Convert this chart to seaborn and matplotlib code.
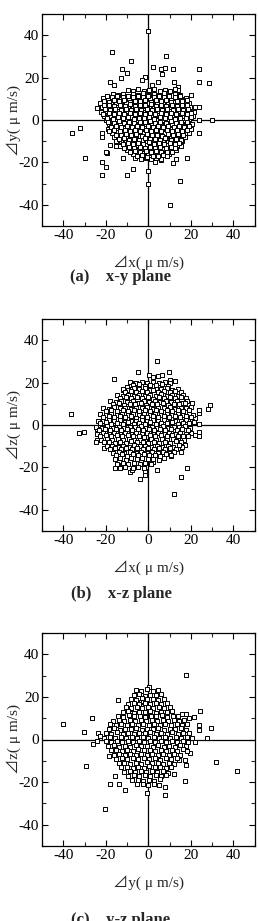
import seaborn as sns
import pandas as pd
import matplotlib.pyplot as plt
from matplotlib.ticker import MultipleLocator

# (dx, dy) points, x-y plane
xy_pts = [
    (0, 42), (-17, 32), (8.5, 30), (-8, 28), (2, 25), (-12.5, 24), (-10, 22), (6, 24), (8, 24.5), (11.5, 24),
    (24, 24), (24, 18), (28.5, 17.5), (-18, 18), (-16, 16.3), (-13, 20), (-1.3, 20.5), (1.6, 16.3), (4.5, 18),
    (12, 18), (13.8, 15.8), (13.8, 14.3), (20, 12), (22, 6), (24, 6), (-24, 5.5), (24, 0), (30, 0), (-36, -6),
    (-32, -4), (24, -6), (-30, -18), (-22, -20), (-20, -22), (-22, -26), (-10, -26), (-7, -23), (0, -24),
    (0, -30), (15, -29), (10, -40), (18, -18), (11.8, -20.2), (12.9, -18.2), (-12, -18), (-6.3, -17.9),
    (-18, -12), (-22, -8), (-22, -6), (-19.6, -15.4), (-15, -12.4), (-20, -15), (6.6, 21.6), (-3, 19), (3, -20), (6, -19),
    (-9.5, 14.2), (-7, 13.8), (-4.8, 14.5), (-2.2, 13.6), (0.4, 14.1), (2.9, 14.7), (5.3, 13.5), (7.8, 14.3), (10.2, 13.9), (12.6, 14.6),
    (-16.8, 12.1), (-14.3, 11.7), (-12, 12.4), (-9.6, 11.5), (-7.1, 12.2), (-4.7, 11.8), (-2.3, 12.5), (0.2, 11.6), (2.6, 12.3),
    (5.1, 11.9), (7.5, 12.6), (9.9, 11.7), (12.4, 12.2), (14.8, 11.8),
    (-21.3, 10.2), (-18.9, 9.7), (-16.4, 10.5), (-14, 9.9), (-11.5, 10.3), (-9.1, 9.6), (-6.6, 10.4), (-4.2, 9.8), (-1.7, 10.6),
    (0.7, 9.7), (3.2, 10.2), (5.6, 9.9), (8.1, 10.5), (10.5, 9.6), (13, 10.1), (15.4, 9.8), (17.9, 10.4),
    (-22.6, 8.1), (-20.2, 7.7), (-17.7, 8.4), (-15.3, 7.6), (-12.8, 8.2), (-10.4, 7.9), (-7.9, 8.5), (-5.5, 7.7), (-3, 8.3),
    (-0.6, 7.8), (1.9, 8.4), (4.3, 7.6), (6.8, 8.2), (9.2, 7.9), (11.7, 8.5), (14.1, 7.7), (16.6, 8.2), (19, 7.8),
    (-21.8, 6.2), (-19.4, 5.7), (-16.9, 6.4), (-14.5, 5.9), (-12, 6.3), (-9.6, 5.6), (-7.1, 6.1), (-4.7, 5.8), (-2.2, 6.5),
    (0.2, 5.7), (2.7, 6.2), (5.1, 5.9), (7.6, 6.4), (10, 5.6), (12.5, 6.1), (14.9, 5.8), (17.4, 6.3), (19.8, 5.9),
    (-22.2, 3.9), (-19.8, 4.3), (-17.3, 3.7), (-14.9, 4.2), (-12.4, 3.8), (-10, 4.4), (-7.5, 3.6), (-5.1, 4.1), (-2.6, 3.9),
    (-0.2, 4.5), (2.3, 3.7), (4.7, 4.2), (7.2, 3.8), (9.6, 4.3), (12.1, 3.6), (14.5, 4.1), (17, 3.9), (19.4, 4.4), (21.7, 3.8),
    (-20.6, 2.1), (-18.1, 1.7), (-15.7, 2.4), (-13.2, 1.8), (-10.8, 2.2), (-8.3, 1.6), (-5.9, 2.3), (-3.4, 1.9), (-1, 2.5),
    (1.5, 1.7), (3.9, 2.2), (6.4, 1.8), (8.8, 2.4), (11.3, 1.6), (13.7, 2.1), (16.2, 1.9), (18.6, 2.3), (21, 1.8),
    (-19.9, 0.2), (-17.4, -0.3), (-15, 0.4), (-12.5, -0.2), (-10.1, 0.3), (-7.6, -0.4), (-5.2, 0.1), (-2.7, -0.2), (-0.3, 0.5),
    (2.2, -0.3), (4.6, 0.2), (7.1, -0.1), (9.5, 0.4), (12, -0.3), (14.4, 0.1), (16.9, -0.2), (19.3, 0.3),
    (-18.3, -1.9), (-15.8, -2.3), (-13.4, -1.7), (-10.9, -2.2), (-8.5, -1.8), (-6, -2.4), (-3.6, -1.9), (-1.1, -2.1), (1.3, -1.6),
    (3.8, -2.3), (6.2, -1.8), (8.7, -2.2), (11.1, -1.7), (13.6, -2.4), (16, -1.9), (18.5, -2.1), (20.7, -1.8),
    (-19.1, -4.1), (-16.6, -3.7), (-14.2, -4.3), (-11.7, -3.8), (-9.3, -4.2), (-6.8, -3.6), (-4.4, -4.1), (-1.9, -3.9), (0.5, -4.4),
    (3, -3.7), (5.4, -4.2), (7.9, -3.8), (10.3, -4.3), (12.8, -3.6), (15.2, -4.1), (17.7, -3.9), (19.9, -4.2),
    (-17.2, -6.1), (-14.7, -5.7), (-12.3, -6.3), (-9.8, -5.8), (-7.4, -6.2), (-4.9, -5.6), (-2.5, -6.1), (0, -5.9), (2.4, -6.4),
    (4.9, -5.7), (7.3, -6.2), (9.8, -5.8), (12.2, -6.3), (14.7, -5.6), (17.1, -6.1), (19.2, -5.9),
    (-16.1, -8.2), (-13.6, -7.7), (-11.2, -8.3), (-8.7, -7.8), (-6.3, -8.2), (-3.8, -7.6), (-1.4, -8.1), (1.1, -7.9), (3.5, -8.4),
    (6, -7.7), (8.4, -8.2), (10.9, -7.8), (13.3, -8.3), (15.8, -7.6), (17.2, -8.1),
    (-15.2, -10.1), (-12.7, -9.7), (-10.3, -10.3), (-7.8, -9.8), (-5.4, -10.2), (-2.9, -9.6), (-0.5, -10.1), (2, -9.9), (4.4, -10.4),
    (6.9, -9.7), (9.3, -10.2), (11.8, -9.8), (14.2, -10.3), (16.1, -9.9),
    (-13.4, -12.2), (-10.9, -11.7), (-8.5, -12.3), (-6, -11.8), (-3.6, -12.2), (-1.1, -11.6), (1.3, -12.1), (3.8, -11.9),
    (6.2, -12.4), (8.7, -11.7), (11.1, -12.2), (13.6, -11.8), (15.3, -12.4),
    (-10.2, -14.1), (-7.7, -13.7), (-5.3, -14.3), (-2.8, -13.8), (-0.4, -14.2), (2.1, -13.6), (4.5, -14.1), (7, -13.9),
    (9.4, -14.4), (11.9, -13.7), (13.2, -14.2),
    (-7.4, -16.1), (-4.9, -15.7), (-2.5, -16.3), (0, -15.8), (2.4, -16.2), (4.9, -15.6), (7.3, -16.1), (9.8, -15.9),
    (-3.6, -18.2), (-1.1, -17.7), (1.3, -18.3), (3.8, -17.8), (6.2, -18.4),
    (-19.5, 11.2), (-17, 10.8), (-14.6, 11.3), (-12.1, 10.9), (-9.7, 11.4), (-7.2, 10.7), (-4.8, 11.2), (-2.3, 10.8), (0.1, 11.3),
    (2.6, 10.9), (5, 11.4), (7.5, 10.7), (9.9, 11.1), (12.4, 10.8), (14.8, 11.3),
    (-21, 9.1), (-18.5, 8.7), (-16.1, 9.3), (-13.6, 8.8), (-11.2, 9.2), (-8.7, 8.6), (-6.3, 9.1), (-3.8, 8.9), (-1.4, 9.4),
    (1.1, 8.7), (3.5, 9.2), (6, 8.8), (8.4, 9.3), (10.9, 8.6), (13.3, 9.1), (15.8, 8.9), (18.2, 9.2),
    (-20.9, 6.9), (-18.4, 7.3), (-16, 6.7), (-13.5, 7.2), (-11.1, 6.8), (-8.6, 7.4), (-6.2, 6.6), (-3.7, 7.1), (-1.3, 6.9),
    (1.2, 7.5), (3.6, 6.7), (6.1, 7.2), (8.5, 6.8), (11, 7.3), (13.4, 6.6), (15.9, 7.1), (18.3, 6.9),
    (-20.4, 5.1), (-17.9, 4.7), (-15.5, 5.3), (-13, 4.8), (-10.6, 5.2), (-8.1, 4.6), (-5.7, 5.1), (-3.2, 4.9), (-0.8, 5.4),
    (1.7, 4.7), (4.1, 5.2), (6.6, 4.8), (9, 5.3), (11.5, 4.6), (13.9, 5.1), (16.4, 4.9), (18.8, 5.2),
    (-21.1, 2.9), (-18.6, 3.3), (-16.2, 2.7), (-13.7, 3.2), (-11.3, 2.8), (-8.8, 3.4), (-6.4, 2.6), (-3.9, 3.1), (-1.5, 2.9),
    (1, 3.5), (3.4, 2.7), (5.9, 3.2), (8.3, 2.8), (10.8, 3.3), (13.2, 2.6), (15.7, 3.1), (18.1, 2.9), (20.3, 3.2),
    (-19.2, 1.1), (-16.7, 0.7), (-14.3, 1.3), (-11.8, 0.8), (-9.4, 1.2), (-6.9, 0.6), (-4.5, 1.1), (-2, 0.9), (0.4, 1.4),
    (2.9, 0.7), (5.3, 1.2), (7.8, 0.8), (10.2, 1.3), (12.7, 0.6), (15.1, 1.1), (17.6, 0.9), (19.9, 1.2),
    (-18.8, -0.9), (-16.3, -1.3), (-13.9, -0.7), (-11.4, -1.2), (-9, -0.8), (-6.5, -1.4), (-4.1, -0.9), (-1.6, -1.1), (0.8, -0.6),
    (3.3, -1.3), (5.7, -0.8), (8.2, -1.2), (10.6, -0.7), (13.1, -1.4), (15.5, -0.9), (18, -1.1),
    (-17.5, -3.1), (-15, -2.7), (-12.6, -3.3), (-10.1, -2.8), (-7.7, -3.2), (-5.2, -2.6), (-2.8, -3.1), (-0.3, -2.9), (2.1, -3.4),
    (4.6, -2.7), (7, -3.2), (9.5, -2.8), (11.9, -3.3), (14.4, -2.6), (16.8, -3.1), (19.1, -2.9),
    (-18.4, -5.1), (-15.9, -4.7), (-13.5, -5.3), (-11, -4.8), (-8.6, -5.2), (-6.1, -4.6), (-3.7, -5.1), (-1.2, -4.9), (1.2, -5.4),
    (3.7, -4.7), (6.1, -5.2), (8.6, -4.8), (11, -5.3), (13.5, -4.6), (15.9, -5.1), (18.3, -4.9),
    (-15.4, -6.9), (-12.9, -7.3), (-10.5, -6.7), (-8, -7.2), (-5.6, -6.8), (-3.1, -7.4), (-0.7, -6.6), (1.8, -7.1), (4.2, -6.9),
    (6.7, -7.5), (9.1, -6.7), (11.6, -7.2), (14, -6.8), (16.5, -7.3),
    (-14, -9.1), (-11.5, -8.7), (-9.1, -9.3), (-6.6, -8.8), (-4.2, -9.2), (-1.7, -8.6), (0.7, -9.1), (3.2, -8.9), (5.6, -9.4),
    (8.1, -8.7), (10.5, -9.2), (13, -8.8), (15.2, -9.3),
    (-12.1, -11.1), (-9.6, -10.7), (-7.2, -11.3), (-4.7, -10.8), (-2.3, -11.2), (0.2, -10.6), (2.6, -11.1), (5.1, -10.9),
    (7.5, -11.4), (10, -10.7), (12.4, -11.2), (14.6, -10.8),
    (-11.6, -13.1), (-9, -12.7), (-6.5, -13.3), (-4.1, -12.8), (-1.6, -13.2), (0.8, -12.6), (3.3, -13.1), (5.7, -12.9),
    (8.2, -13.4), (10.6, -12.7), (12.6, -13.2),
    (-8.6, -15.1), (-6.1, -14.7), (-3.7, -15.3), (-1.2, -14.8), (1.2, -15.2), (3.7, -14.6), (6.1, -15.1), (8.6, -14.9), (11, -15.3),
    (-5.3, -17.1), (-2.8, -16.7), (-0.4, -17.3), (2.1, -16.8), (4.5, -17.2), (7, -16.6), (8.9, -17.1),
]

# (dx, dz) points, x-z plane
xz_pts = [
    (3.9, 30.3), (-5, 25), (-16, 21.6), (0.5, 23.5), (2.4, 22.7), (4.4, 23.2), (6.6, 23.5), (9.9, 24.8), (10.2, 21.2),
    (-12, 16.5), (-10, 18), (-8, 19), (-6.3, 19.6), (29, 9.4), (28, 7.4), (23.8, 0.3), (23.8, -3.1), (23.8, -5.3),
    (23.8, 5.5), (23.8, 7), (20.5, 10.5), (18, -20.4), (15.2, -24.5), (12.2, -32.5), (-3.9, -25.6), (-8.6, -22),
    (-7.8, -21), (-15.7, -20.4), (-12.5, -18.8), (-36.2, 5), (-32.5, -3.9), (-30.4, -3.1), (-24, -7), (-24.5, -8),
    (-24, -2), (-21, -11), (17.4, -9.4), (16, -10.5), (10.7, -14.6), (15.5, -12.5), (2, -17.5), (4, -21), (-1.5, -23.5),
    (-1.5, -21.5), (20, -4), (22, -4.5), (22, 3.5),
    (-8.5, 20.3), (-5.8, 19.7), (-3.1, 20.5), (-0.4, 19.8), (2.3, 20.4), (5, 19.6), (7.7, 20.2), (10.4, 19.9), (12.6, 20.6),
    (-7.1, 18.8), (-4.4, 19.2), (-1.7, 18.6), (1, 19.1), (3.7, 18.7), (6.4, 19.3), (9.1, 18.6),
    (-12.1, 17.2), (-9.5, 16.7), (-6.9, 17.4), (-4.3, 16.8), (-1.7, 17.3), (0.9, 16.6), (3.5, 17.1), (6.1, 16.9), (8.7, 17.4),
    (11.3, 16.7), (13.9, 17.2),
    (-10.8, 15.8), (-8.2, 16.2), (-5.6, 15.6), (-3, 16.1), (-0.4, 15.7), (2.2, 16.3), (4.8, 15.5), (7.4, 16), (10, 15.7),
    (12.6, 16.2), (15.2, 15.6),
    (-14.6, 14.1), (-12, 13.7), (-9.4, 14.3), (-6.8, 13.8), (-4.2, 14.2), (-1.6, 13.6), (1, 14.1), (3.6, 13.9), (6.2, 14.4),
    (8.8, 13.7), (11.4, 14.2), (14, 13.8), (16.4, 14.3),
    (-13.3, 12.8), (-10.7, 13.2), (-8.1, 12.6), (-5.5, 13.1), (-2.9, 12.7), (-0.3, 13.3), (2.3, 12.5), (4.9, 13), (7.5, 12.7),
    (10.1, 13.2), (12.7, 12.6), (15.3, 13.1), (17.6, 12.8),
    (-17.8, 11.1), (-15.2, 10.7), (-12.6, 11.3), (-10, 10.8), (-7.4, 11.2), (-4.8, 10.6), (-2.2, 11.1), (0.4, 10.9), (3, 11.4),
    (5.6, 10.7), (8.2, 11.2), (10.8, 10.8), (13.4, 11.3), (16, 10.6), (18.4, 11.1),
    (-16.5, 9.8), (-13.9, 10.2), (-11.3, 9.6), (-8.7, 10.1), (-6.1, 9.7), (-3.5, 10.3), (-0.9, 9.5), (1.7, 10), (4.3, 9.7),
    (6.9, 10.2), (9.5, 9.6), (12.1, 10.1), (14.7, 9.8), (17.3, 10.3),
    (-21.2, 8.1), (-18.6, 7.7), (-16, 8.3), (-13.4, 7.8), (-10.8, 8.2), (-8.2, 7.6), (-5.6, 8.1), (-3, 7.9), (-0.4, 8.4),
    (2.2, 7.7), (4.8, 8.2), (7.4, 7.8), (10, 8.3), (12.6, 7.6), (15.2, 8.1), (17.8, 7.9), (20.2, 8.3),
    (-19.9, 6.8), (-17.3, 7.2), (-14.7, 6.6), (-12.1, 7.1), (-9.5, 6.7), (-6.9, 7.3), (-4.3, 6.5), (-1.7, 7), (0.9, 6.7),
    (3.5, 7.2), (6.1, 6.6), (8.7, 7.1), (11.3, 6.8), (13.9, 7.3), (16.5, 6.6), (19.1, 7.1),
    (-22.6, 5.1), (-20, 4.7), (-17.4, 5.3), (-14.8, 4.8), (-12.2, 5.2), (-9.6, 4.6), (-7, 5.1), (-4.4, 4.9), (-1.8, 5.4),
    (0.8, 4.7), (3.4, 5.2), (6, 4.8), (8.6, 5.3), (11.2, 4.6), (13.8, 5.1), (16.4, 4.9), (19, 5.3), (21.2, 4.8),
    (-21.3, 3.8), (-18.7, 4.2), (-16.1, 3.6), (-13.5, 4.1), (-10.9, 3.7), (-8.3, 4.3), (-5.7, 3.5), (-3.1, 4), (-0.5, 3.7),
    (2.1, 4.2), (4.7, 3.6), (7.3, 4.1), (9.9, 3.8), (12.5, 4.3), (15.1, 3.6), (17.7, 4.1), (20.1, 3.8),
    (-23.8, 2.1), (-21.2, 1.7), (-18.6, 2.3), (-16, 1.8), (-13.4, 2.2), (-10.8, 1.6), (-8.2, 2.1), (-5.6, 1.9), (-3, 2.4),
    (-0.4, 1.7), (2.2, 2.2), (4.8, 1.8), (7.4, 2.3), (10, 1.6), (12.6, 2.1), (15.2, 1.9), (17.8, 2.3), (20.4, 1.8),
    (-22.5, 0.8), (-19.9, 1.2), (-17.3, 0.6), (-14.7, 1.1), (-12.1, 0.7), (-9.5, 1.3), (-6.9, 0.5), (-4.3, 1), (-1.7, 0.7),
    (0.9, 1.2), (3.5, 0.6), (6.1, 1.1), (8.7, 0.8), (11.3, 1.3), (13.9, 0.6), (16.5, 1.1), (19.1, 0.8), (21.5, 1.2),
    (-24.4, -0.9), (-21.8, -1.3), (-19.2, -0.7), (-16.6, -1.2), (-14, -0.8), (-11.4, -1.4), (-8.8, -0.9), (-6.2, -1.1),
    (-3.6, -0.6), (-1, -1.3), (1.6, -0.8), (4.2, -1.2), (6.8, -0.7), (9.4, -1.4), (12, -0.9), (14.6, -1.1), (17.2, -0.6), (19.8, -1.2),
    (-23.1, -2.2), (-20.5, -1.8), (-17.9, -2.4), (-15.3, -1.9), (-12.7, -2.3), (-10.1, -1.7), (-7.5, -2.2), (-4.9, -2),
    (-2.3, -2.5), (0.3, -1.8), (2.9, -2.3), (5.5, -1.9), (8.1, -2.4), (10.7, -1.7), (13.3, -2.2), (15.9, -2), (18.5, -2.4),
    (-23.9, -4.1), (-21.3, -3.7), (-18.7, -4.3), (-16.1, -3.8), (-13.5, -4.2), (-10.9, -3.6), (-8.3, -4.1), (-5.7, -3.9),
    (-3.1, -4.4), (-0.5, -3.7), (2.1, -4.2), (4.7, -3.8), (7.3, -4.3), (9.9, -3.6), (12.5, -4.1), (15.1, -3.9), (17.7, -4.3),
    (-22.6, -5.2), (-20, -4.8), (-17.4, -5.4), (-14.8, -4.9), (-12.2, -5.3), (-9.6, -4.7), (-7, -5.2), (-4.4, -5),
    (-1.8, -5.5), (0.8, -4.8), (3.4, -5.3), (6, -4.9), (8.6, -5.4), (11.2, -4.7), (13.8, -5.2), (16.4, -5), (18.8, -5.4),
    (-22.2, -7.1), (-19.6, -6.7), (-17, -7.3), (-14.4, -6.8), (-11.8, -7.2), (-9.2, -6.6), (-6.6, -7.1), (-4, -6.9),
    (-1.4, -7.4), (1.2, -6.7), (3.8, -7.2), (6.4, -6.8), (9, -7.3), (11.6, -6.6), (14.2, -7.1), (16.8, -6.9),
    (-20.9, -8.2), (-18.3, -7.8), (-15.7, -8.4), (-13.1, -7.9), (-10.5, -8.3), (-7.9, -7.7), (-5.3, -8.2), (-2.7, -8),
    (-0.1, -8.5), (2.5, -7.8), (5.1, -8.3), (7.7, -7.9), (10.3, -8.4), (12.9, -7.7), (15.5, -8.2),
    (-19.5, -10.1), (-16.9, -9.7), (-14.3, -10.3), (-11.7, -9.8), (-9.1, -10.2), (-6.5, -9.6), (-3.9, -10.1), (-1.3, -9.9),
    (1.3, -10.4), (3.9, -9.7), (6.5, -10.2), (9.1, -9.8), (11.7, -10.3), (14.3, -9.6),
    (-18.2, -11.2), (-15.6, -10.8), (-13, -11.4), (-10.4, -10.9), (-7.8, -11.3), (-5.2, -10.7), (-2.6, -11.2), (0, -11),
    (2.6, -11.5), (5.2, -10.8), (7.8, -11.3), (10.4, -10.9), (13, -11.4),
    (-16.4, -13.1), (-13.8, -12.7), (-11.2, -13.3), (-8.6, -12.8), (-6, -13.2), (-3.4, -12.6), (-0.8, -13.1), (1.8, -12.9),
    (4.4, -13.4), (7, -12.7), (9.6, -13.2), (12.2, -12.8),
    (-15.1, -14.2), (-12.5, -13.8), (-9.9, -14.4), (-7.3, -13.9), (-4.7, -14.3), (-2.1, -13.7), (0.5, -14.2), (3.1, -14),
    (5.7, -14.5), (8.3, -13.8), (10.9, -14.3),
    (-15.8, -16.1), (-13.2, -15.7), (-10.6, -16.3), (-8, -15.8), (-5.4, -16.2), (-2.8, -15.6), (-0.2, -16.1), (2.4, -15.9),
    (5, -16.4), (7.6, -15.7),
    (-14.5, -18.2), (-11.9, -17.8), (-9.3, -18.4), (-6.7, -17.9), (-4.1, -18.3), (-1.5, -17.7), (1.1, -18.2),
    (-13.4, -20.1), (-10.8, -19.7), (-7.2, -20.4), (-4.6, -19.8), (-2, -20.3),
]

# (dy, dz) points, y-z plane
yz_pts = [
    (17.9, 30.1), (-40.3, 7.4), (-30.1, 3.6), (-26.5, 10.2), (-29.2, -12.5), (-20.2, -32.6), (32, -10.5), (41.7, -14.6),
    (27.6, 0.5), (29.3, 5.5), (24.3, 13.5), (-14.3, 18.5), (-18.2, -20.7), (-15.5, -17), (-14, -20.7), (-10.8, -23.5),
    (8, -25.9), (7.7, -22.3), (17.1, -19.6), (11.9, -16), (17.7, -12.2), (14.6, -9.4), (17.4, -9.4), (19.6, -6.3),
    (18, -5.5), (-23.7, 3), (-22.6, 1.6), (-26.2, -1.9), (-24.2, -0.8), (-18.7, -7.8), (15.8, 11.8), (17.7, 11.8),
    (19.3, 10.2), (21.3, 10.5), (23.7, 7), (23.7, 4.5), (21.8, -1.3), (-3, 17.5), (-3.5, 17.8), (-2.5, 18), (-0.6, -25),
    (0.5, 24.5), (-5.5, 22.5), (-8.3, 14.5), (10, 14),
    (-5.8, 23.3), (-3.2, 22.7), (-0.6, 23.5), (2, 22.8), (4.6, 23.2),
    (-6.9, 20.8), (-4.3, 21.3), (-1.7, 20.6), (0.9, 21.1), (3.5, 20.7), (6.1, 21.2),
    (-8.2, 19.1), (-5.6, 18.7), (-3, 19.3), (-0.4, 18.8), (2.2, 19.2), (4.8, 18.6), (7.4, 19.1),
    (-9.4, 16.8), (-6.8, 17.2), (-4.2, 16.6), (-1.6, 17.1), (1, 16.7), (3.6, 17.3), (6.2, 16.5), (8.8, 17),
    (-10.6, 15.1), (-8, 14.7), (-5.4, 15.3), (-2.8, 14.8), (-0.2, 15.2), (2.4, 14.6), (5, 15.1), (7.6, 14.9), (10.2, 15.4),
    (-12.1, 12.8), (-9.5, 13.2), (-6.9, 12.6), (-4.3, 13.1), (-1.7, 12.7), (0.9, 13.3), (3.5, 12.5), (6.1, 13), (8.7, 12.7),
    (11.3, 13.2),
    (-14.4, 11.1), (-11.8, 10.7), (-9.2, 11.3), (-6.6, 10.8), (-4, 11.2), (-1.4, 10.6), (1.2, 11.1), (3.8, 10.9), (6.4, 11.4),
    (9, 10.7), (11.6, 11.2), (14.2, 10.8),
    (-16.6, 8.8), (-14, 9.2), (-11.4, 8.6), (-8.8, 9.1), (-6.2, 8.7), (-3.6, 9.3), (-1, 8.5), (1.6, 9), (4.2, 8.7),
    (6.8, 9.2), (9.4, 8.6), (12, 9.1), (14.6, 8.8), (17, 9.2),
    (-17.9, 7.1), (-15.3, 6.7), (-12.7, 7.3), (-10.1, 6.8), (-7.5, 7.2), (-4.9, 6.6), (-2.3, 7.1), (0.3, 6.9), (2.9, 7.4),
    (5.5, 6.7), (8.1, 7.2), (10.7, 6.8), (13.3, 7.3), (15.9, 6.6), (18.3, 7.1),
    (-18.6, 4.8), (-16, 5.2), (-13.4, 4.6), (-10.8, 5.1), (-8.2, 4.7), (-5.6, 5.3), (-3, 4.5), (-0.4, 5), (2.2, 4.7),
    (4.8, 5.2), (7.4, 4.6), (10, 5.1), (12.6, 4.8), (15.2, 5.3), (17.8, 4.6),
    (-19.9, 3.1), (-17.3, 2.7), (-14.7, 3.3), (-12.1, 2.8), (-9.5, 3.2), (-6.9, 2.6), (-4.3, 3.1), (-1.7, 2.9), (0.9, 3.4),
    (3.5, 2.7), (6.1, 3.2), (8.7, 2.8), (11.3, 3.3), (13.9, 2.6), (16.5, 3.1), (19.1, 2.9),
    (-20.8, 0.8), (-18.2, 1.2), (-15.6, 0.6), (-13, 1.1), (-10.4, 0.7), (-7.8, 1.3), (-5.2, 0.5), (-2.6, 1), (0, 0.7),
    (2.6, 1.2), (5.2, 0.6), (7.8, 1.1), (10.4, 0.8), (13, 1.3), (15.6, 0.6), (18.2, 1.1), (20.4, 0.8),
    (-20.1, -0.9), (-17.5, -1.3), (-14.9, -0.7), (-12.3, -1.2), (-9.7, -0.8), (-7.1, -1.4), (-4.5, -0.9), (-1.9, -1.1),
    (0.7, -0.6), (3.3, -1.3), (5.9, -0.8), (8.5, -1.2), (11.1, -0.7), (13.7, -1.4), (16.3, -0.9), (18.9, -1.1),
    (-18.8, -3.2), (-16.2, -2.8), (-13.6, -3.4), (-11, -2.9), (-8.4, -3.3), (-5.8, -2.7), (-3.2, -3.2), (-0.6, -3),
    (2, -3.5), (4.6, -2.8), (7.2, -3.3), (9.8, -2.9), (12.4, -3.4), (15, -2.7), (17.6, -3.2),
    (-17.6, -5.1), (-15, -4.7), (-12.4, -5.3), (-9.8, -4.8), (-7.2, -5.2), (-4.6, -4.6), (-2, -5.1), (0.6, -4.9),
    (3.2, -5.4), (5.8, -4.7), (8.4, -5.2), (11, -4.8), (13.6, -5.3), (16.2, -4.6),
    (-16.3, -7.2), (-13.7, -6.8), (-11.1, -7.4), (-8.5, -6.9), (-5.9, -7.3), (-3.3, -6.7), (-0.7, -7.2), (1.9, -7),
    (4.5, -7.5), (7.1, -6.8), (9.7, -7.3), (12.3, -6.9), (14.9, -7.4),
    (-15.1, -9.1), (-12.5, -8.7), (-9.9, -9.3), (-7.3, -8.8), (-4.7, -9.2), (-2.1, -8.6), (0.5, -9.1), (3.1, -8.9),
    (5.7, -9.4), (8.3, -8.7), (10.9, -9.2), (13.5, -8.8),
    (-13.8, -11.2), (-11.2, -10.8), (-8.6, -11.4), (-6, -10.9), (-3.4, -11.3), (-0.8, -10.7), (1.8, -11.2), (4.4, -11),
    (7, -11.5), (9.6, -10.8), (12.2, -11.3),
    (-12.6, -13.1), (-10, -12.7), (-7.4, -13.3), (-4.8, -12.8), (-2.2, -13.2), (0.4, -12.6), (3, -13.1), (5.6, -12.9),
    (8.2, -13.4), (10.8, -12.7),
    (-11.3, -15.2), (-8.7, -14.8), (-6.1, -15.4), (-3.5, -14.9), (-0.9, -15.3), (1.7, -14.7), (4.3, -15.2), (6.9, -15),
    (9.5, -15.5),
    (-9.4, -17.1), (-6.8, -16.7), (-4.2, -17.3), (-1.6, -16.8), (1, -17.2), (3.6, -16.6), (6.2, -17.1), (8.4, -16.9),
    (-7.5, -19.2), (-4.9, -18.8), (-2.3, -19.4), (0.3, -18.9), (2.9, -19.3), (5.5, -18.7),
    (-5.2, -21.1), (-2.6, -20.7), (0, -21.3), (2.6, -20.8), (5.2, -21.2),
]

tick_vals = [-40, -20, 0, 20, 40]
x_labels = ['⊿x( μ m/s)', '⊿x( μ m/s)', '⊿y( μ m/s)']
y_labels = ['⊿y( μ m/s)', '⊿z( μ m/s)', '⊿z( μ m/s)']
captions = ['(a)    x-y plane', '(b)    x-z plane', '(c)    y-z plane']

sns.set_style('ticks')
plt.rcParams['font.family'] = ['Liberation Serif', 'Noto Sans CJK JP', 'DejaVu Sans']
plt.rcParams['axes.unicode_minus'] = False

W, H = 258, 921
fig = plt.figure(figsize=(W / 100, H / 100), dpi=100)

# top / bottom of each plot box and caption baseline, in pixels
boxes = [(14, 226, 281), (319, 531, 598), (633, 846, 924)]

for pts, xl, yl, cap, (top, bot, cap_y) in zip([xy_pts, xz_pts, yz_pts], x_labels, y_labels, captions, boxes):
    ax = fig.add_axes([42 / W, 1 - bot / H, 212.5 / W, (bot - top) / H])
    df = pd.DataFrame(pts, columns=['a', 'b'])
    ax.axhline(0, color='black', lw=0.9, zorder=1)
    ax.axvline(0, color='black', lw=0.9, zorder=1)
    sns.scatterplot(data=df, x='a', y='b', marker='s', s=8, color='white',
                    edgecolor='black', linewidth=0.7, ax=ax, legend=False, zorder=2)
    ax.set_xlim(-50, 50)
    ax.set_ylim(-50, 50)
    ax.set_xticks(tick_vals)
    ax.set_yticks(tick_vals)
    ax.xaxis.set_minor_locator(MultipleLocator(10))
    ax.yaxis.set_minor_locator(MultipleLocator(10))
    ax.tick_params(which='major', direction='in', top=True, right=True,
                   length=4, width=0.8, labelsize=11, pad=2, colors='black')
    ax.tick_params(which='minor', direction='in', top=True, right=True,
                   length=3, width=0.8)
    for sp in ax.spines.values():
        sp.set_linewidth(0.9)
        sp.set_color('black')
    ax.set_xlabel(xl, fontsize=11)
    ax.set_ylabel(yl, fontsize=11)
    ax.xaxis.set_label_coords(0.5, -0.135)
    ax.yaxis.set_label_coords(-0.097, 0.5)
    fig.text(121 / W, 1 - cap_y / H, cap, ha='center', va='baseline',
             fontsize=12, fontweight='bold')

fig.savefig('out.png', dpi=100)
